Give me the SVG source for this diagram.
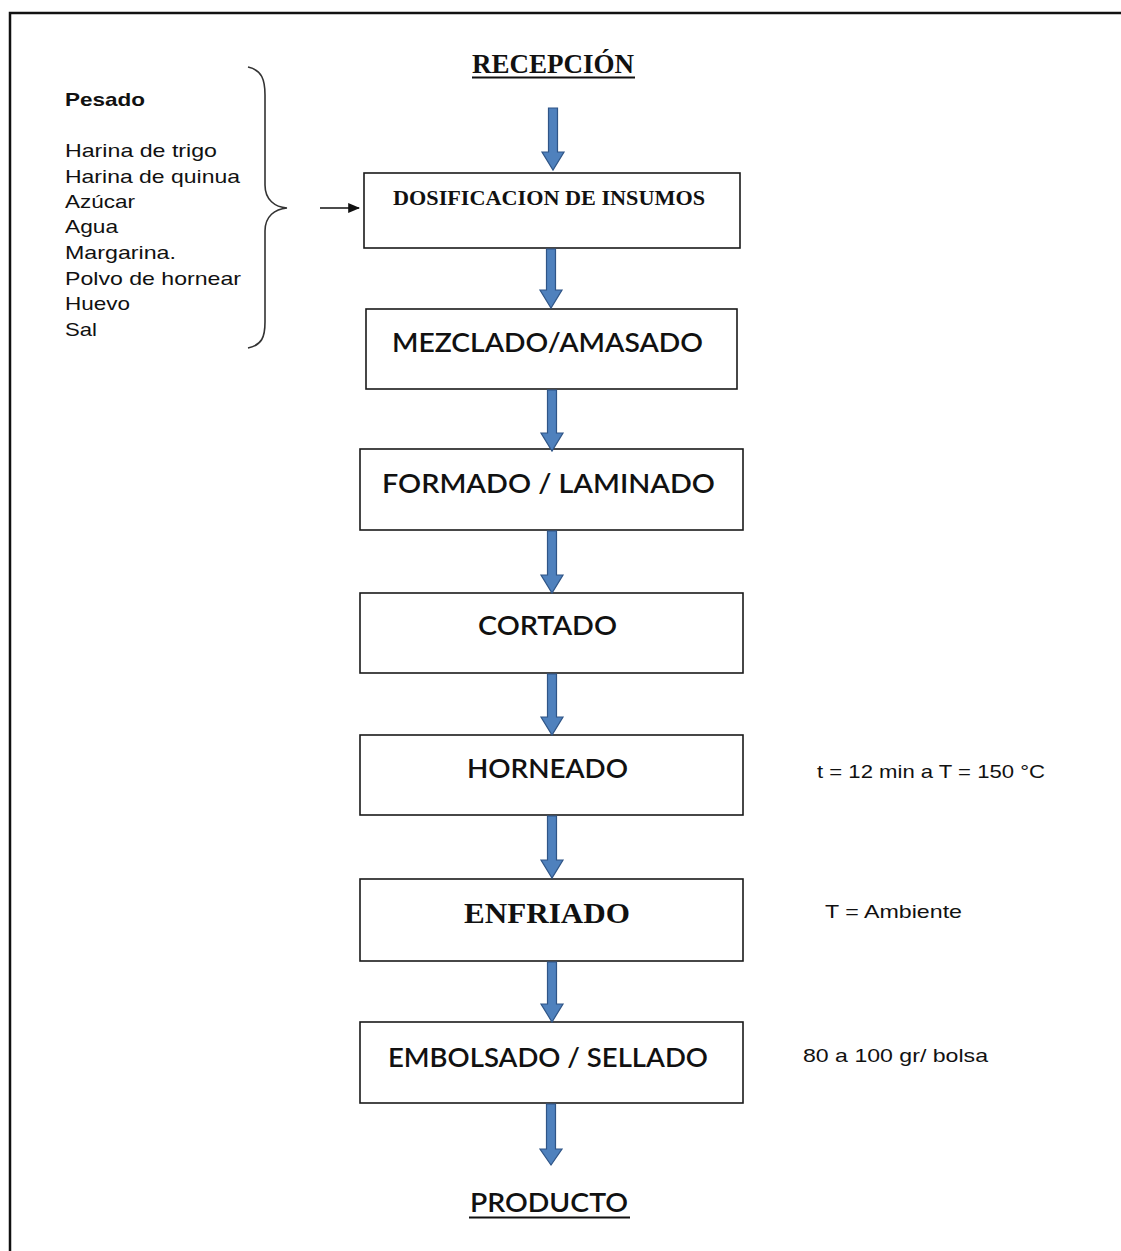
<svg xmlns="http://www.w3.org/2000/svg" width="1121" height="1251" viewBox="0 0 1121 1251">
<defs>
<style>
.box{fill:#fff;stroke:#1a1a1a;stroke-width:1.6}
.flow{fill:#4f81bd;stroke:#2f5587;stroke-width:1.2;stroke-linejoin:miter}
.serif{font-family:"Liberation Serif","Times New Roman",serif;font-weight:bold;fill:#111}
.cal{font-family:Lato,"Open Sans","Liberation Sans",sans-serif;fill:#111;font-size:26px;font-weight:600}
.note{font-family:"Liberation Sans",Arial,sans-serif;fill:#111;font-size:19px}
.ul{stroke:#111;stroke-width:1.8}
</style>
<marker id="ah" viewBox="0 0 10 10" refX="9" refY="5" markerWidth="12" markerHeight="10" orient="auto" markerUnits="userSpaceOnUse" preserveAspectRatio="none">
<path d="M0,0 L10,5 L0,10 z" fill="#111"/>
</marker>
</defs>
<rect width="1121" height="1251" fill="#fff"/>
<path d="M10,1251 V13 H1121" fill="none" stroke="#111" stroke-width="2.5"/>

<g id="inputs">
<text class="note" x="65" y="106" font-weight="bold" textLength="80" lengthAdjust="spacingAndGlyphs">Pesado</text>
<text class="note" x="65" y="157" textLength="152" lengthAdjust="spacingAndGlyphs">Harina de trigo</text>
<text class="note" x="65" y="183" textLength="175" lengthAdjust="spacingAndGlyphs">Harina de quinua</text>
<text class="note" x="65" y="208" textLength="70" lengthAdjust="spacingAndGlyphs">Azúcar</text>
<text class="note" x="65" y="233" textLength="53" lengthAdjust="spacingAndGlyphs">Agua</text>
<text class="note" x="65" y="259" textLength="111" lengthAdjust="spacingAndGlyphs">Margarina.</text>
<text class="note" x="65" y="285" textLength="176" lengthAdjust="spacingAndGlyphs">Polvo de hornear</text>
<text class="note" x="65" y="310" textLength="65" lengthAdjust="spacingAndGlyphs">Huevo</text>
<text class="note" x="65" y="336" textLength="32" lengthAdjust="spacingAndGlyphs">Sal</text>
<path d="M248,67 C262,70 265,80 265,95 L265,185 C265,200 275,207 287,208 C275,209 265,216 265,231 L265,322 C265,337 262,345 248,348" fill="none" stroke="#333" stroke-width="1.6"/>
</g>

<g id="recepcion">
<text class="serif" x="553" y="73" font-size="27" text-anchor="middle">RECEPCIÓN</text>
<line class="ul" x1="472" y1="77.5" x2="635" y2="77.5"/>
</g>

<g id="dosificacion">
<rect class="box" x="364" y="173" width="376" height="75"/>
<text class="serif" x="393" y="205" font-size="22" textLength="312" lengthAdjust="spacingAndGlyphs">DOSIFICACION DE INSUMOS</text>
</g>

<g id="mezclado">
<rect class="box" x="366" y="309" width="371" height="80"/>
<text class="cal" x="392" y="352" textLength="311" lengthAdjust="spacingAndGlyphs">MEZCLADO/AMASADO</text>
</g>

<g id="formado">
<rect class="box" x="360" y="449" width="383" height="81"/>
<text class="cal" x="382" y="493" textLength="333" lengthAdjust="spacingAndGlyphs">FORMADO / LAMINADO</text>
</g>

<g id="cortado">
<rect class="box" x="360" y="593" width="383" height="80"/>
<text class="cal" x="478" y="635" textLength="139" lengthAdjust="spacingAndGlyphs">CORTADO</text>
</g>

<g id="horneado">
<rect class="box" x="360" y="735" width="383" height="80"/>
<text class="cal" x="467" y="778" textLength="161" lengthAdjust="spacingAndGlyphs">HORNEADO</text>
<text class="note" x="817" y="778" textLength="228" lengthAdjust="spacingAndGlyphs">t = 12 min a T = 150 °C</text>
</g>

<g id="enfriado">
<rect class="box" x="360" y="879" width="383" height="82"/>
<text class="serif" x="464" y="923" font-size="30" textLength="166" lengthAdjust="spacingAndGlyphs">ENFRIADO</text>
<text class="note" x="825" y="918" textLength="137" lengthAdjust="spacingAndGlyphs">T = Ambiente</text>
</g>

<g id="embolsado">
<rect class="box" x="360" y="1022" width="383" height="81"/>
<text class="cal" x="388" y="1067" textLength="320" lengthAdjust="spacingAndGlyphs">EMBOLSADO / SELLADO</text>
<text class="note" x="803" y="1062" textLength="185" lengthAdjust="spacingAndGlyphs">80 a 100 gr/ bolsa</text>
</g>

<g id="producto">
<text class="cal" x="470" y="1212" font-size="24" textLength="158" lengthAdjust="spacingAndGlyphs">PRODUCTO</text>
<line class="ul" x1="469" y1="1217.5" x2="630" y2="1217.5"/>
</g>

<g id="connectors">
<line x1="320" y1="208" x2="359" y2="208" stroke="#111" stroke-width="1.6" marker-end="url(#ah)"/>
<path class="flow" d="M548.5,108 H557.5 V152 H564 L553,170 L542,152 H548.5 Z"/>
<path class="flow" d="M546.5,249 H555.5 V290 H562 L551,308 L540,290 H546.5 Z"/>
<path class="flow" d="M547.5,390 H556.5 V433 H563 L552,451 L541,433 H547.5 Z"/>
<path class="flow" d="M547.5,531 H556.5 V575 H563 L552,593 L541,575 H547.5 Z"/>
<path class="flow" d="M547.5,674 H556.5 V717 H563 L552,735 L541,717 H547.5 Z"/>
<path class="flow" d="M547.5,816 H556.5 V860 H563 L552,878 L541,860 H547.5 Z"/>
<path class="flow" d="M547.5,962 H556.5 V1004 H563 L552,1022 L541,1004 H547.5 Z"/>
<path class="flow" d="M546.5,1104 H555.5 V1149 H562 L551,1165 L540,1149 H546.5 Z"/>
</g>
</svg>
